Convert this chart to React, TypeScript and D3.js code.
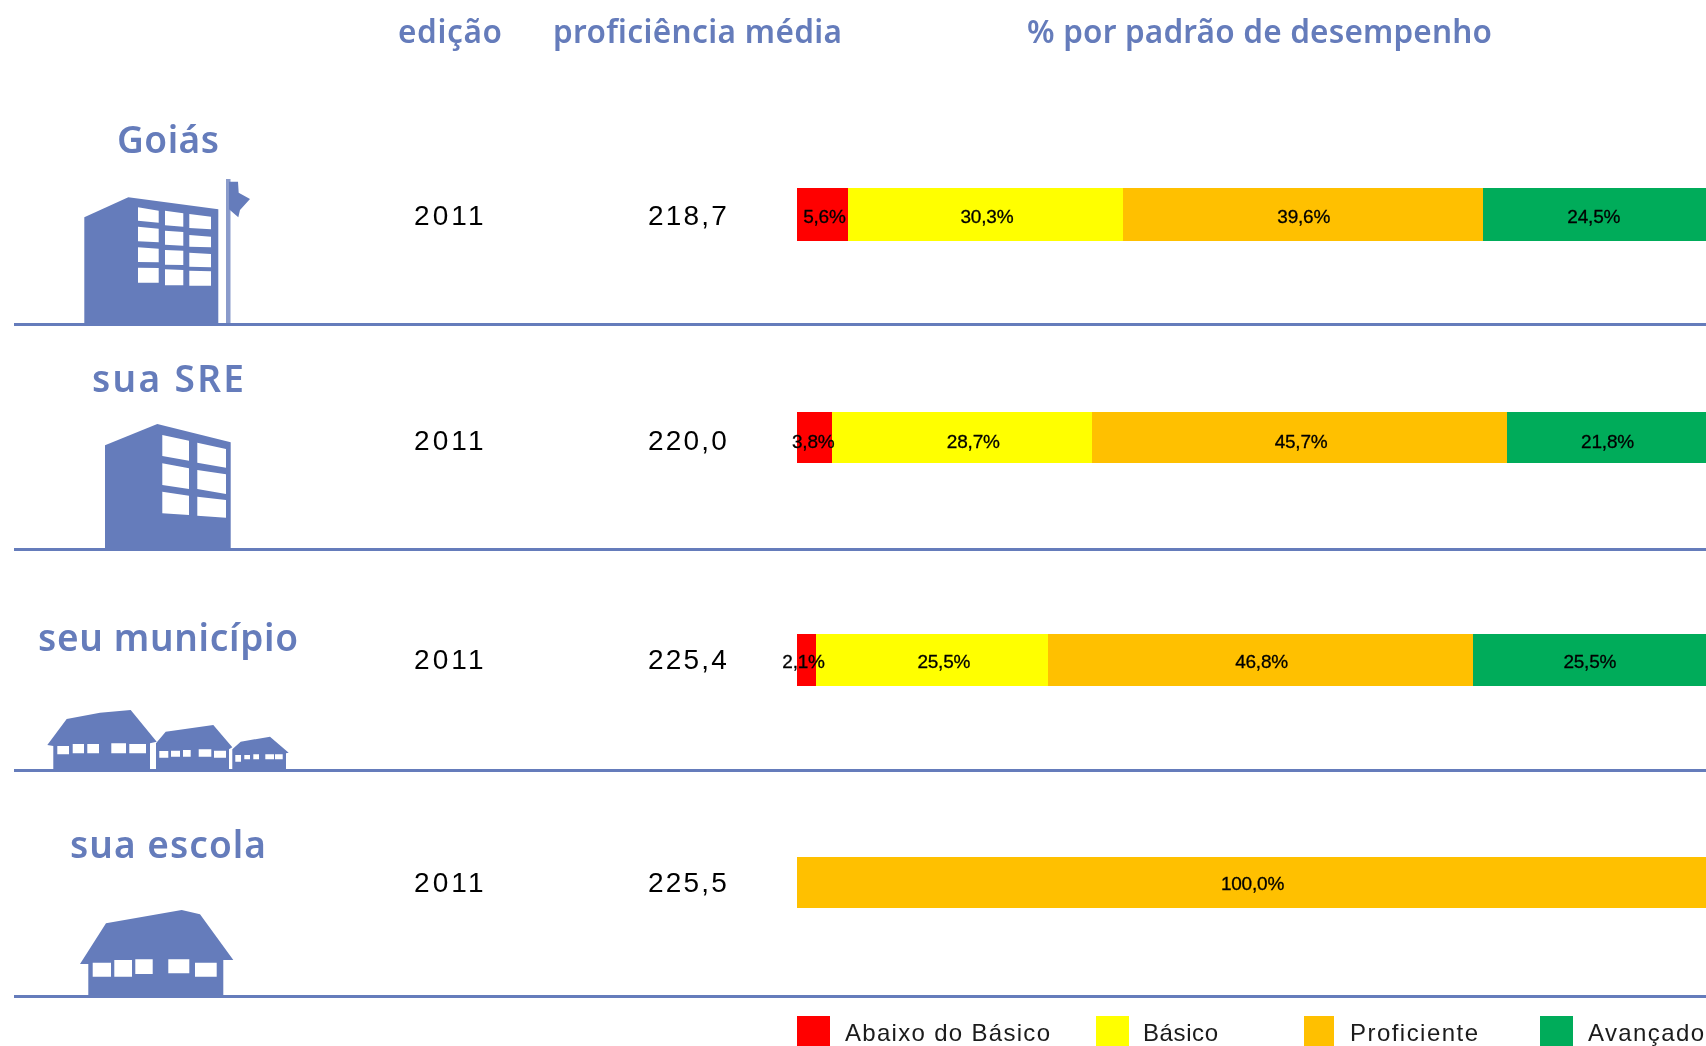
import React from "react";
import * as d3 from "d3";

// ---- data ----
const regions = ["Goiás", "sua SRE", "seu município", "sua escola"];
const editions = ["2011", "2011", "2011", "2011"];
const proficiency = [218.7, 220.0, 225.4, 225.5];
const abaixoDoBasico = [5.6, 3.8, 2.1, 0];
const basico = [30.3, 28.7, 25.5, 0];
const proficiente = [39.6, 45.7, 46.8, 100.0];
const avancado = [24.5, 21.8, 25.5, 0];
const levels = ["Abaixo do Básico", "Básico", "Proficiente", "Avançado"];
const headers = ["edição", "proficiência média", "% por padrão de desempenho"];

// ---- styling / layout ----
const levelColors = ["#ff0000", "#ffff00", "#ffc000", "#00ac5a"];
const BLUE = "#657cbb";
const SANS = "'Liberation Sans', Arial, sans-serif";
const HEAD = "'Noto Sans', sans-serif";
const barTops = [188, 412, 634, 857];
const barBottoms = [241, 463, 686, 908];
const ruleTops = [323, 548, 769, 995];
const nameBaselines = [153, 392, 651, 858];
const nameWidths = [102, 152, 260, 196];
const valueBaselines = [225, 450, 669, 892];
const labelBaselines = [223, 447.5, 667.5, 889.5];
const headerCenters = [450, 697.5, 1259.5];
const headerWidths = [104, 289, 465];
const legendSwatches = [[797, 830], [1096, 1129], [1304, 1334], [1540, 1573]];
const legendTextX = [845, 1143, 1350, 1588];
const legendWidths = [205, 75, 128, 116];
// horizontal offset of each value label from its segment's centre, as placed in the reference
const labelOffsets = [
  [2, 1.5, 1, 0],
  [-1, 11.5, 1.5, 1.5],
  [-3, 12, 1.5, 1.5],
  [0, 0, 1.5, 0],
];

const x = d3.scaleLinear().domain([0, 100]).range([797, 1705]);
const fmtLocale = d3.formatLocale({ decimal: ",", thousands: ".", grouping: [3], currency: ["", ""] });
const f1 = fmtLocale.format(".1f");
const series = [abaixoDoBasico, basico, proficiente, avancado];

const poly = (pts: number[][], ox: number, oy: number) =>
  "M" + pts.map(([a, b]) => `${(a / 3 + ox).toFixed(1)},${(b / 3 + oy).toFixed(1)}`).join("L") + "Z";
const rects = (rs: number[][], ox: number, oy: number) =>
  rs.map(([a, b, c, d]) => poly([[a, b], [c, b], [c, d], [a, d]], ox, oy)).join("");

// icon shapes: outlines measured at 3x
const goiasBody = [[253, 652], [385, 592], [655, 628], [655, 970], [253, 970]];
const goiasWin = [
  [[414, 622], [476, 632], [476, 668], [414, 662]], [[495, 632], [550, 640], [550, 680], [495, 676]], [[568, 642], [633, 650], [633, 688], [568, 684]],
  [[414, 680], [476, 686], [476, 727], [414, 724]], [[495, 692], [550, 696], [550, 737], [495, 734]], [[568, 705], [633, 710], [633, 742], [568, 740]],
  [[414, 742], [476, 746], [476, 787], [414, 786]], [[495, 750], [550, 752], [550, 795], [495, 794]], [[568, 758], [633, 762], [633, 802], [568, 800]],
  [[414, 803], [476, 804], [476, 848], [414, 848]], [[495, 808], [550, 810], [550, 856], [495, 856]], [[568, 812], [633, 814], [633, 857], [568, 857]],
];
const flag = [[687, 545], [714, 545], [716, 578], [750, 597], [720, 630], [715, 652], [687, 628]];
const sreBody = [[315, 316], [472, 252], [692, 307], [692, 628], [315, 628]];
const sreWin = [
  [[487, 285], [567, 302], [567, 362], [487, 348]], [[592, 308], [678, 327], [678, 383], [592, 368]],
  [[487, 370], [567, 385], [567, 447], [487, 435]], [[592, 390], [678, 403], [678, 462], [592, 447]],
  [[487, 455], [567, 467], [567, 525], [487, 520]], [[592, 470], [678, 480], [678, 533], [592, 527]],
];
const houseA = [[142, 1215], [200, 1137], [300, 1118], [392, 1110], [470, 1205], [450, 1210], [450, 1290], [160, 1290], [160, 1218]];
const houseB = [[468, 1210], [497, 1175], [640, 1155], [697, 1222], [687, 1228], [687, 1290], [468, 1290]];
const houseC = [[697, 1228], [722, 1205], [810, 1190], [866, 1238], [858, 1240], [858, 1290], [697, 1290]];
const houseWin = [
  [172, 1218, 207, 1243], [218, 1212, 252, 1240], [262, 1212, 297, 1240], [334, 1210, 378, 1240], [388, 1212, 438, 1240],
  [478, 1233, 505, 1253], [513, 1232, 540, 1250], [549, 1230, 572, 1250], [596, 1228, 634, 1250], [642, 1232, 678, 1253],
  [706, 1245, 723, 1265], [733, 1245, 750, 1258], [760, 1243, 777, 1258], [796, 1243, 822, 1258], [825, 1243, 848, 1258],
];
const school = [[240, 552], [318, 430], [545, 390], [600, 403], [700, 540], [670, 540], [670, 648], [265, 648], [265, 552]];
const schoolWin = [[278, 548, 333, 590], [343, 540, 396, 590], [406, 538, 458, 582], [505, 538, 568, 580], [585, 548, 650, 590]];

function Icons() {
  return (
    <g fill={BLUE}>
      <path d={poly(goiasBody, 0, 0)} />
      <path d={goiasWin.map((w) => poly(w, 0, 0)).join("")} fill="#fff" />
      <rect x={226} y={179} width={4.5} height={145} fill="#8a9bcb" />
      <path d={poly(flag, 0, 0)} />
      <path d={poly(sreBody, 0, 340)} />
      <path d={sreWin.map((w) => poly(w, 0, 340)).join("")} fill="#fff" />
      <path d={poly(houseA, 0, 340)} />
      <path d={poly(houseB, 0, 340)} />
      <path d={poly(houseC, 0, 340)} />
      <path d={rects(houseWin, 0, 340)} fill="#fff" />
      <path d={poly(school, 0, 780)} />
      <path d={rects(schoolWin, 0, 780)} fill="#fff" />
    </g>
  );
}

export default function App() {
  return (
    <svg
      width={1706}
      height={1046}
      viewBox="0 0 1706 1046"
      style={{ position: "absolute", left: 0, top: 0, display: "block", background: "#fff" }}
    >
      <defs>
        <filter id="soft" x="-5%" y="-20%" width="110%" height="140%">
          <feGaussianBlur stdDeviation="0.5" />
        </filter>
      </defs>

      {/* headers */}
      <g fill={BLUE} fontFamily={HEAD} fontWeight={600} fontSize={31.5} textAnchor="middle" filter="url(#soft)">
        {headers.map((h, i) => (
          <text key={h} x={headerCenters[i]} y={42.5} textLength={headerWidths[i]} lengthAdjust="spacing">
            {h}
          </text>
        ))}
      </g>

      <Icons />

      {regions.map((r, i) => {
        const cum = d3.cumsum(series.map((s) => s[i]));
        const lastK = d3.max(series.map((s, k) => (s[i] ? k : 0))) as number;
        return (
          <g key={r}>
            <rect x={14} y={ruleTops[i]} width={1692} height={3} fill={BLUE} />
            <text x={168} y={nameBaselines[i]} fill={BLUE} fontFamily={HEAD} fontWeight={600} fontSize={37} textAnchor="middle" textLength={nameWidths[i]} lengthAdjust="spacing" filter="url(#soft)">
              {r}
            </text>
            <text x={414} y={valueBaselines[i]} fill="#000" fontFamily={SANS} fontSize={28} letterSpacing={3.1} filter="url(#soft)">
              {editions[i]}
            </text>
            <text x={648} y={valueBaselines[i]} fill="#000" fontFamily={SANS} fontSize={28} letterSpacing={2.2} filter="url(#soft)">
              {f1(proficiency[i])}
            </text>
            {series.map((s, k) => {
              const v = s[i];
              if (!v) return null;
              const x0 = x(cum[k] - v);
              const x1 = k === lastK ? 1706 : x(cum[k]);
              return <rect key={k} x={x0} y={barTops[i]} width={x1 - x0} height={barBottoms[i] - barTops[i]} fill={levelColors[k]} shapeRendering="crispEdges" />;
            })}
            {series.map((s, k) => {
              const v = s[i];
              if (!v) return null;
              const cx = (x(cum[k] - v) + x(cum[k])) / 2 + labelOffsets[i][k];
              return (
                <text key={k} x={cx} y={labelBaselines[i]} fontFamily={SANS} fontSize={19} letterSpacing={-0.2} textAnchor="middle" fill="#000" stroke="#000" strokeWidth={0.3} filter="url(#soft)">
                  {f1(v)}%
                </text>
              );
            })}
          </g>
        );
      })}

      {/* legend */}
      {levels.map((l, i) => (
        <g key={l}>
          <rect x={legendSwatches[i][0]} y={1016} width={legendSwatches[i][1] - legendSwatches[i][0]} height={30} fill={levelColors[i]} />
          <text x={legendTextX[i]} y={1041} fontFamily={SANS} fontSize={24} textLength={legendWidths[i]} lengthAdjust="spacing" fill="#1a1a1a" filter="url(#soft)">
            {l}
          </text>
        </g>
      ))}
    </svg>
  );
}
